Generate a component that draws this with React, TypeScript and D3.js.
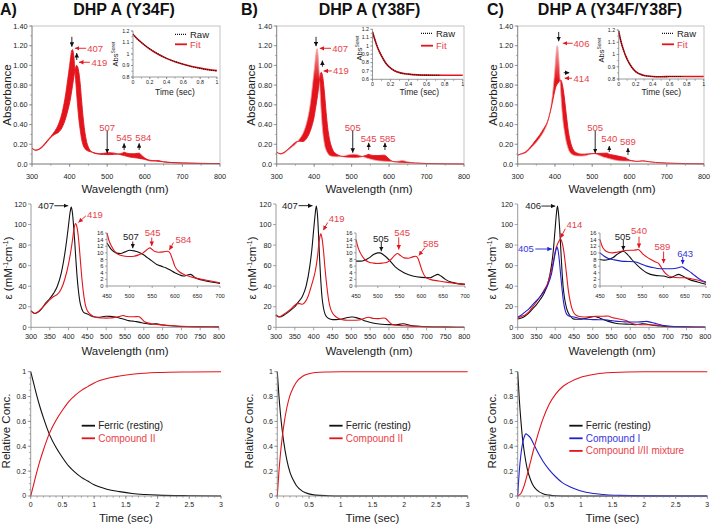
import React from "react";
import * as d3 from "d3";

type Pt = [number, number];
type Arrow = [number, number, number, number, string];
type Label = [string, number, number, string, string];

// ---------------- TOP ROW: stopped-flow spectra (Absorbance) ----------------
const TOP_WL = [300,310,320,330,340,350,360,370,380,390,395,400,403,406,408,410,413,416,419,422,425,428,432,436,440,445,450,460,470,480,490,505,520,530,540,545,550,560,570,580,585,590,595,600,610,620,635,650,670,700,750,800];

const TOP_A_START = [.16,.14,.155,.19,.235,.28,.33,.40,.52,.72,.86,1.0,1.09,1.155,1.16,1.13,1.02,.86,.70,.56,.44,.35,.25,.19,.16,.14,.13,.12,.11,.105,.108,.115,.11,.10,.09,.085,.08,.07,.065,.06,.057,.054,.05,.046,.035,.03,.035,.022,.015,.01,.006,.004];
const TOP_A_END = [.16,.14,.15,.18,.225,.27,.30,.32,.37,.47,.54,.62,.68,.75,.80,.85,.92,.98,1.0,.98,.92,.82,.64,.47,.34,.23,.17,.12,.105,.10,.097,.095,.098,.102,.11,.12,.112,.105,.104,.108,.11,.095,.075,.06,.042,.035,.028,.022,.015,.01,.006,.004];
const TOP_B_START = [.12,.10,.11,.14,.17,.20,.25,.31,.42,.62,.78,.95,1.06,1.15,1.17,1.12,.95,.72,.52,.36,.26,.19,.14,.11,.09,.08,.075,.073,.076,.082,.092,.10,.09,.075,.06,.055,.05,.04,.034,.03,.028,.027,.026,.025,.025,.025,.035,.022,.01,.005,.002,0];
const TOP_B_END = [.12,.105,.12,.15,.185,.22,.232,.228,.26,.34,.40,.48,.55,.62,.67,.72,.82,.90,.93,.90,.82,.70,.52,.37,.27,.19,.14,.10,.082,.074,.07,.069,.071,.078,.09,.098,.092,.086,.085,.088,.09,.085,.07,.05,.026,.02,.017,.014,.01,.005,.002,0];
const TOP_C_START = [.09,.10,.11,.14,.18,.22,.27,.33,.42,.60,.76,.97,1.12,1.20,1.17,1.08,.90,.70,.54,.42,.34,.27,.20,.15,.12,.10,.09,.082,.08,.083,.095,.105,.085,.07,.06,.055,.05,.04,.034,.031,.03,.03,.03,.03,.027,.025,.035,.025,.014,.006,.002,0];
const TOP_C_END = [.09,.105,.12,.155,.20,.25,.30,.36,.43,.57,.66,.75,.79,.81,.82,.83,.845,.85,.82,.76,.68,.58,.45,.33,.25,.18,.14,.11,.10,.10,.103,.106,.108,.109,.11,.10,.095,.088,.08,.072,.068,.064,.05,.04,.032,.027,.03,.025,.016,.01,.004,.002];

// Soret kinetic traces (insets)
const INSET_A_RAW: Pt[] = [[0,1.175],[0.05,1.13],[0.1,1.10],[0.15,1.07],[0.2,1.045],[0.3,1.0],[0.4,0.962],[0.5,0.935],[0.6,0.91],[0.7,0.89],[0.8,0.875],[0.9,0.862],[1.0,0.853]];
const INSET_A_FIT: Pt[] = [[0,1.17],[0.1,1.10],[0.2,1.043],[0.3,0.998],[0.4,0.962],[0.5,0.933],[0.6,0.91],[0.7,0.892],[0.8,0.877],[0.9,0.864],[1.0,0.855]];
const INSET_B_RAW: Pt[] = [[0,1.17],[0.025,1.08],[0.05,1.0],[0.075,0.935],[0.1,0.88],[0.15,0.79],[0.2,0.735],[0.25,0.70],[0.3,0.68],[0.4,0.662],[0.5,0.653],[0.6,0.65],[0.75,0.648]];
const INSET_B_FIT: Pt[] = [[0,1.17],[0.025,1.08],[0.05,1.0],[0.075,0.935],[0.1,0.88],[0.15,0.79],[0.2,0.735],[0.25,0.70],[0.3,0.68],[0.4,0.662],[0.5,0.653],[0.6,0.65],[0.8,0.648],[1.0,0.648]];
const INSET_C_RAW: Pt[] = [[0,1.19],[0.025,1.11],[0.05,1.05],[0.1,0.96],[0.15,0.90],[0.2,0.86],[0.25,0.84],[0.3,0.828],[0.4,0.82],[0.5,0.818],[0.6,0.82],[0.75,0.82]];
const INSET_C_FIT: Pt[] = [[0,1.19],[0.025,1.11],[0.05,1.05],[0.1,0.96],[0.15,0.90],[0.2,0.86],[0.25,0.84],[0.3,0.828],[0.4,0.82],[0.5,0.818],[0.6,0.82],[0.8,0.82],[1.0,0.82]];

const TOP_Y_TICKS = [0,0.2,0.4,0.6,0.8,1.0,1.2,1.4];
const TOP_X_TICKS = [300,400,500,600,700,800];
const INSET_X_TICKS = [0,0.2,0.4,0.6,0.8,1];
const INSET_AC_Y_TICKS = [0.8,0.9,1,1.1,1.2];
const INSET_B_Y_TICKS = [0.6,0.7,0.8,0.9,1,1.1,1.2];

// ---------------- MIDDLE ROW: extinction spectra ----------------
const MID_A_FERRIC: Pt[] = [[300,16],[305,14.5],[310,13.5],[320,15],[330,19],[340,24],[350,28],[360,33],[370,40],[380,52],[390,72],[395,85],[400,100],[404,112],[407,117],[410,112],[413,100],[416,85],[419,68],[422,52],[426,36],[430,25],[435,18],[440,14.5],[450,13],[460,11],[470,10],[480,9.8],[490,10.3],[500,10.8],[510,10.6],[520,10.2],[530,9.5],[540,8.5],[550,7.5],[560,6.5],[570,6],[580,5.5],[590,4.8],[600,4],[610,3.4],[620,3],[628,3.3],[635,3.5],[645,2.5],[660,1.8],[680,1.2],[700,0.8],[750,0.4],[800,0.2]];
const MID_A_CPDII: Pt[] = [[300,16],[305,14.5],[310,13.5],[320,15.5],[330,19],[340,23],[350,27],[360,30],[370,32],[380,37],[390,47],[400,62],[405,72],[410,84],[414,95],[417,100],[419,101],[422,98],[425,91],[428,80],[432,62],[436,45],[440,32],[445,21],[450,16],[455,13.5],[460,12],[470,10],[480,9.3],[490,9],[500,8.9],[510,9],[520,9.4],[530,10],[537,10.8],[545,11.5],[550,11],[555,10.5],[565,10.2],[575,10.3],[585,10.5],[590,9.8],[595,8],[600,6],[610,4.3],[620,3.5],[630,3],[640,2.6],[660,2],[680,1.5],[700,1],[750,0.6],[800,0.4]];
const MID_B_FERRIC: Pt[] = [[300,12],[305,10.5],[310,10],[320,11.5],[330,14],[340,17],[350,20],[360,25],[370,30],[380,40],[390,60],[395,75],[400,95],[404,110],[407,118],[410,110],[413,90],[416,65],[419,45],[422,30],[426,19],[430,13],[435,10],[440,8.5],[450,7.5],[460,7.5],[470,7.8],[480,8.5],[490,9.5],[500,10],[505,10],[515,9.2],[525,8],[540,5.8],[560,4],[580,3],[600,2.6],[620,2.5],[630,3.1],[637,3.5],[645,3],[655,2],[670,1.1],[700,0.5],[750,0.2],[800,0]];
const MID_B_CPDII: Pt[] = [[300,12],[305,10.8],[310,10.5],[320,12.5],[330,15],[340,18],[350,21.5],[356,23],[363,23],[370,22.5],[378,25],[385,30],[392,38],[400,48],[405,56],[410,68],[414,82],[417,89],[419,91],[422,87],[426,75],[430,58],[435,40],[440,26],[445,18],[450,14],[455,11.5],[460,10],[470,8],[480,7.2],[490,6.9],[500,6.8],[510,6.9],[520,7.1],[530,8],[537,9],[545,9.8],[552,9.2],[560,8.5],[570,8.4],[580,8.8],[587,9],[592,8.4],[597,6.5],[602,4.5],[610,2.6],[620,2],[640,1.5],[660,1.1],[680,0.8],[700,0.5],[750,0.2],[800,0]];
const MID_C_FERRIC: Pt[] = [[300,8],[310,9],[320,11],[330,14],[340,18],[350,22],[360,27],[370,33],[380,42],[390,60],[395,75],[400,97],[403,110],[406,118],[409,110],[412,95],[415,75],[418,55],[421,40],[425,28],[430,19],[435,14],[440,11],[450,8],[460,7.8],[470,8],[480,8.5],[490,9.5],[500,10.3],[505,10.5],[515,9.5],[525,8],[540,6],[560,4],[580,3.2],[600,3],[615,2.5],[628,3.2],[635,3.5],[645,3],[660,2],[680,1.2],[700,0.5],[750,0.2],[800,0]];
const MID_C_CPDI: Pt[] = [[300,10],[310,12],[320,15],[330,18],[340,22],[350,26],[360,30],[370,35],[380,41],[390,52],[396,64],[400,72],[405,78],[408,74],[411,65],[414,53],[418,38],[422,25],[427,16],[432,12],[440,10.5],[450,10],[460,9],[470,8.3],[480,8],[500,7.5],[515,7.4],[530,7.3],[540,7],[550,6.5],[560,6],[570,5.7],[585,5.3],[600,5.2],[620,5.2],[635,5.5],[643,5.8],[650,5.3],[660,4.5],[670,3.5],[680,2.5],[690,1.7],[700,1.2],[750,0.3],[800,0]];
const MID_C_MIX: Pt[] = [[300,9],[310,10.5],[320,12],[330,15],[340,20],[350,25],[360,30],[370,36],[380,43],[390,56],[396,66],[400,74],[405,80],[410,84],[414,86],[418,83],[422,76],[426,65],[430,52],[435,36],[440,25],[445,18],[450,14],[455,12],[460,11],[470,10.2],[480,10],[490,10.2],[500,10.5],[510,10.7],[520,10.8],[530,10.8],[540,11],[545,10.5],[550,9.8],[560,8.8],[570,8],[580,7.3],[589,6.7],[595,5.5],[600,4.5],[610,3.2],[620,2.7],[635,2.5],[650,2.5],[665,2.2],[680,1.8],[700,1],[750,0.5],[800,0.3]];

const MID_Y_TICKS = [0,20,40,60,80,100,120];
const MID_X_TICKS = [300,350,400,450,500,550,600,650,700,750,800];
const MID_IN_Y_TICKS = [0,2,4,6,8,10,12,14,16];
const MID_IN_X_TICKS = [450,500,550,600,650,700];

// ---------------- BOTTOM ROW: concentration profiles ----------------
const BOT_A_FERRIC: Pt[] = [[0,1],[0.05,0.9],[0.1,0.8],[0.15,0.71],[0.2,0.63],[0.3,0.49],[0.4,0.39],[0.5,0.31],[0.6,0.24],[0.7,0.19],[0.8,0.15],[0.9,0.12],[1.0,0.09],[1.2,0.055],[1.4,0.035],[1.6,0.02],[1.8,0.012],[2.0,0.007],[2.5,0.002],[3,0]];
const BOT_A_CPDII: Pt[] = [[0,0],[0.05,0.1],[0.1,0.2],[0.15,0.29],[0.2,0.37],[0.3,0.51],[0.4,0.61],[0.5,0.69],[0.6,0.76],[0.7,0.81],[0.8,0.85],[0.9,0.88],[1.0,0.91],[1.2,0.945],[1.4,0.965],[1.6,0.98],[1.8,0.988],[2.0,0.993],[2.5,0.998],[3,1]];
const BOT_B_FERRIC: Pt[] = [[0,1],[0.025,0.81],[0.05,0.66],[0.075,0.54],[0.1,0.44],[0.15,0.29],[0.2,0.19],[0.25,0.13],[0.3,0.085],[0.4,0.037],[0.5,0.017],[0.6,0.007],[0.8,0.002],[1,0],[3,0]];
const BOT_B_CPDII: Pt[] = [[0,0],[0.025,0.19],[0.05,0.34],[0.075,0.46],[0.1,0.56],[0.15,0.71],[0.2,0.81],[0.25,0.87],[0.3,0.915],[0.4,0.963],[0.5,0.983],[0.6,0.993],[0.8,0.998],[1,1],[3,1]];
const BOT_C_FERRIC: Pt[] = [[0,1],[0.025,0.78],[0.05,0.61],[0.075,0.47],[0.1,0.37],[0.15,0.22],[0.2,0.135],[0.25,0.08],[0.3,0.05],[0.4,0.018],[0.5,0.007],[0.6,0.002],[0.8,0],[3,0]];
const BOT_C_CPDI: Pt[] = [[0,0],[0.025,0.2],[0.05,0.33],[0.075,0.42],[0.1,0.47],[0.13,0.5],[0.16,0.49],[0.2,0.47],[0.25,0.42],[0.3,0.37],[0.4,0.28],[0.5,0.21],[0.6,0.155],[0.7,0.11],[0.8,0.08],[0.9,0.058],[1.0,0.04],[1.2,0.02],[1.4,0.01],[1.6,0.005],[2,0.001],[3,0]];
const BOT_C_MIX: Pt[] = [[0,0],[0.05,0.02],[0.1,0.08],[0.15,0.17],[0.2,0.27],[0.25,0.37],[0.3,0.46],[0.4,0.62],[0.5,0.74],[0.6,0.82],[0.7,0.875],[0.8,0.91],[1.0,0.955],[1.2,0.978],[1.5,0.993],[2,0.999],[3,1]];

const BOT_Y_TICKS = [0,0.2,0.4,0.6,0.8,1];
const BOT_X_TICKS = [0,0.5,1,1.5,2,2.5,3];

// ---------------- annotations (data coordinates) ----------------
const TOP_A_ARROWS: Arrow[] = [[406,1.29,406,1.19,"k"],[444,1.174,414,1.174,"r"],[419,1.055,419,1.125,"k"],[454,1.032,425,1.032,"r"],[500,0.34,500,0.11,"k"],[545,0.142,545,0.21,"k"],[585,0.142,585,0.21,"k"]];
const TOP_A_LABELS: Label[] = [["407",447,1.174,"r","start"],["419",458,1.032,"r","start"],["507",500,0.37,"r","middle"],["545",545,0.27,"r","middle"],["584",596,0.27,"r","middle"]];
const TOP_B_ARROWS: Arrow[] = [[405,1.29,405,1.195,"k"],[445,1.174,415,1.174,"r"],[422,0.987,422,1.05,"k"],[447,0.944,425,0.944,"r"],[503,0.34,503,0.115,"k"],[545.6,0.142,545.6,0.215,"k"],[589,0.142,589,0.215,"k"]];
const TOP_B_LABELS: Label[] = [["407",448,1.174,"r","start"],["419",450,0.944,"r","start"],["505",503,0.37,"r","middle"],["545",545.6,0.26,"r","middle"],["585",596,0.26,"r","middle"]];
const TOP_C_ARROWS: Arrow[] = [[410,1.34,410,1.245,"k"],[447.6,1.225,421,1.225,"r"],[423.5,0.926,438.5,0.926,"k"],[445.7,0.87,426,0.87,"r"],[508,0.34,508,0.11,"k"],[545.8,0.122,545.8,0.183,"k"],[596,0.092,596,0.163,"k"]];
const TOP_C_LABELS: Label[] = [["406",450,1.225,"r","start"],["414",450,0.87,"r","start"],["505",508,0.37,"r","middle"],["540",545.8,0.26,"r","middle"],["589",596,0.227,"r","middle"]];

const MID_A_ARROWS: Arrow[] = [[362,118.3,399,118.3,"k"],[446,108.5,426,102,"r"]];
const MID_A_LABELS: Label[] = [["407",340,118.3,"k","middle"],["419",470,109.5,"r","middle"]];
const MID_A_IN_ARROWS: Arrow[] = [[507,13.4,507,11.4,"k"],[549,14.6,549,12.1,"r"],[597,13.1,588,10.9,"r"]];
const MID_A_IN_LABELS: Label[] = [["507",503,14.9,"k","middle"],["545",551,16.2,"r","middle"],["584",619,14.0,"r","middle"]];
const MID_B_ARROWS: Arrow[] = [[360,118.4,397,118.4,"k"],[437,102,425.6,94.5,"r"]];
const MID_B_LABELS: Label[] = [["407",337,118.4,"k","middle"],["419",461,105.5,"r","middle"]];
const MID_B_IN_ARROWS: Arrow[] = [[508,13.3,508,10.5,"k"],[548,14.7,548,11,"r"],[608,11.6,594,9.2,"r"]];
const MID_B_IN_LABELS: Label[] = [["505",507,14.2,"k","middle"],["545",556,16,"r","middle"],["585",622,12.7,"r","middle"]];
const MID_C_ARROWS: Arrow[] = [[363,118,400,118,"k"],[427,96,414,87,"r"],[347,76.2,391,76.2,"b"]];
const MID_C_LABELS: Label[] = [["406",341,118,"k","middle"],["414",451,99.6,"r","middle"],["405",322,76.2,"b","middle"]];
const MID_C_IN_ARROWS: Arrow[] = [[505,13.9,505,10.8,"k"],[542,14.9,542,11.5,"r"],[600,10.4,600,6.9,"r"],[645,8.8,645,6.6,"b"]];
const MID_C_IN_LABELS: Label[] = [["505",503.5,15.0,"k","middle"],["540",542,16.7,"r","middle"],["589",597,11.9,"r","middle"],["643",651,9.9,"b","middle"]];

// ---------------- styling & layout ----------------
const FONT = "'Liberation Sans', Arial, Helvetica, sans-serif";
const AX = "#808080";
const TXT = "#222";
const RED = "#e3141c";
const LRED = "#e8424a";
const BLUE = "#2020d0";
const BLK = "#111111";
const LINE_COL: Record<string, string> = { k: BLK, r: RED, b: BLUE };
const TXT_COL: Record<string, string> = { k: "#222", r: LRED, b: "#3535e0" };

const COLS = [
  {
    key: "A", letter: "A)", letterX: 0, title: "DHP A (Y34F)", titleX: 124,
    ylab: [7, 8, 6], xlabX: 125,
    top: { x: [32, 220], start: TOP_A_START, end: TOP_A_END, fade: false, arrows: TOP_A_ARROWS, labels: TOP_A_LABELS,
      inset: { x: [133, 217], y: [77, 31], dom: [0.8, 1.2], ticks: INSET_AC_Y_TICKS, raw: INSET_A_RAW, fit: INSET_A_FIT, absX: 115.5, absY: 54, timeX: 175, timeY: 92, legX: 175, legY: [34.3, 44.3] } },
    mid: { x: [31, 219], curves: [[MID_A_FERRIC, "k"], [MID_A_CPDII, "r"]], arrows: MID_A_ARROWS, labels: MID_A_LABELS,
      inset: { x: [107, 220], arrows: MID_A_IN_ARROWS, labels: MID_A_IN_LABELS } },
    bot: { x: [30.7, 221], curves: [[BOT_A_FERRIC, "k"], [BOT_A_CPDII, "r"]], legX: 81.7, legend: [["Ferric (resting)", "k"], ["Compound II", "r"]] },
  },
  {
    key: "B", letter: "B)", letterX: 241, title: "DHP A (Y38F)", titleX: 369.5,
    ylab: [251, 252, 249], xlabX: 369,
    top: { x: [276.7, 464], start: TOP_B_START, end: TOP_B_END, fade: true, arrows: TOP_B_ARROWS, labels: TOP_B_LABELS,
      inset: { x: [372.5, 462.7], y: [79.3, 29.3], dom: [0.6, 1.2], ticks: INSET_B_Y_TICKS, raw: INSET_B_RAW, fit: INSET_B_FIT, absX: 359.5, absY: 48, timeX: 419.3, timeY: 92.5, legX: 421, legY: [33.3, 45.7] } },
    mid: { x: [276, 464.3], curves: [[MID_B_FERRIC, "k"], [MID_B_CPDII, "r"]], arrows: MID_B_ARROWS, labels: MID_B_LABELS,
      inset: { x: [356, 465], arrows: MID_B_IN_ARROWS, labels: MID_B_IN_LABELS } },
    bot: { x: [277.3, 467.7], curves: [[BOT_B_FERRIC, "k"], [BOT_B_CPDII, "r"]], legX: 329.3, legend: [["Ferric (resting)", "k"], ["Compound II", "r"]] },
  },
  {
    key: "C", letter: "C)", letterX: 487, title: "DHP A (Y34F/Y38F)", titleX: 610,
    ylab: [493, 492, 492], xlabX: 612,
    top: { x: [517.7, 704], start: TOP_C_START, end: TOP_C_END, fade: true, arrows: TOP_C_ARROWS, labels: TOP_C_LABELS,
      inset: { x: [618.7, 703.7], y: [79, 30], dom: [0.8, 1.2], ticks: INSET_AC_Y_TICKS, raw: INSET_C_RAW, fit: INSET_C_FIT, absX: 601, absY: 50, timeX: 661.3, timeY: 92, legX: 662, legY: [33.3, 44.3] } },
    mid: { x: [517.7, 705.3], curves: [[MID_C_FERRIC, "k"], [MID_C_MIX, "r"], [MID_C_CPDI, "b"]], arrows: MID_C_ARROWS, labels: MID_C_LABELS,
      inset: { x: [600, 706], arrows: MID_C_IN_ARROWS, labels: MID_C_IN_LABELS } },
    bot: { x: [517.7, 707.3], curves: [[BOT_C_FERRIC, "k"], [BOT_C_CPDI, "b"], [BOT_C_MIX, "r"]], legX: 569.3, legend: [["Ferric (resting)", "k"], ["Compound I", "b"], ["Compound I/II mixture", "r"]] },
  },
];

const fmtNum = (v: number) => String(+v.toFixed(3));

function LeftAxis({ y, x, ticks, minor = [], fmt, fs, tl = 3 }: any) {
  const [a, b] = y.range();
  return (
    <g>
      <line x1={x} x2={x} y1={a} y2={b} stroke={AX} strokeWidth={0.8} />
      {minor.map((t: number, i: number) => (
        <line key={"m" + i} x1={x - 1.8} x2={x} y1={y(t)} y2={y(t)} stroke={AX} strokeWidth={0.6} />
      ))}
      {ticks.map((t: number, i: number) => (
        <g key={i}>
          <line x1={x - tl} x2={x} y1={y(t)} y2={y(t)} stroke={AX} strokeWidth={0.7} />
          <text x={x - tl - 1.5} y={y(t)} dy="0.35em" textAnchor="end" fontSize={fs} fill={TXT}>{fmt(t)}</text>
        </g>
      ))}
    </g>
  );
}

function BottomAxis({ x, y, ticks, minor = [], fmt, fs, tl = 3, ly }: any) {
  const [a, b] = x.range();
  return (
    <g>
      <line x1={a} x2={b} y1={y} y2={y} stroke={AX} strokeWidth={0.8} />
      {minor.map((t: number, i: number) => (
        <line key={"m" + i} x1={x(t)} x2={x(t)} y1={y} y2={y + 1.8} stroke={AX} strokeWidth={0.6} />
      ))}
      {ticks.map((t: number, i: number) => (
        <g key={i}>
          <line x1={x(t)} x2={x(t)} y1={y} y2={y + tl} stroke={AX} strokeWidth={0.7} />
          <text x={x(t)} y={ly} dy="0.35em" textAnchor="middle" fontSize={fs} fill={TXT}>{fmt(t)}</text>
        </g>
      ))}
    </g>
  );
}

function Arrows({ list, x, y }: any) {
  return (
    <g>
      {list.map((a: Arrow, i: number) => (
        <line key={i} x1={x(a[0])} y1={y(a[1])} x2={x(a[2])} y2={y(a[3])} stroke={LINE_COL[a[4]]} strokeWidth={0.9} markerEnd={`url(#ah-${a[4]})`} />
      ))}
    </g>
  );
}

function Labels({ list, x, y, fs }: any) {
  return (
    <g>
      {list.map((l: Label, i: number) => (
        <text key={i} x={x(l[1])} y={y(l[2])} dy="0.35em" textAnchor={l[4]} fontSize={fs} fill={TXT_COL[l[3]]}>{l[0]}</text>
      ))}
    </g>
  );
}

function minorRange(a: number, b: number, step: number) {
  return d3.range(a, b + step / 2, step);
}

function TopPanel({ c }: any) {
  const t = c.top;
  const x = d3.scaleLinear().domain([300, 800]).range(t.x);
  const y = d3.scaleLinear().domain([0, 1.4]).range([164, 26]);
  const idx = TOP_WL.map((_, i) => i);
  const area = d3.area<number>().x((i) => x(TOP_WL[i])).y0((i) => y(t.start[i])).y1((i) => y(t.end[i])).curve(d3.curveMonotoneX);
  const line = (vals: number[]) => d3.line<number>().x((i) => x(TOP_WL[i])).y((i) => y(vals[i])).curve(d3.curveMonotoneX)(idx) || "";
  const gid = "grad" + c.key;
  const ins = t.inset;
  const ix = d3.scaleLinear().domain([0, 1]).range(ins.x);
  const iy = d3.scaleLinear().domain(ins.dom).range(ins.y);
  const il = d3.line<Pt>().x((d) => ix(d[0])).y((d) => iy(d[1])).curve(d3.curveMonotoneX);
  return (
    <g>
      <defs>
        <linearGradient id={gid} gradientUnits="userSpaceOnUse" x1={0} x2={0} y1={y(1.2)} y2={y(0.85)}>
          <stop offset="0" stopColor={t.fade ? "#f7a8a8" : RED} />
          <stop offset="1" stopColor={RED} />
        </linearGradient>
      </defs>
      <rect x={t.x[0]} y={26} width={t.x[1] - t.x[0]} height={164 - 26} fill="none" stroke="#b5b5b5" strokeWidth={0.8} />
      <path d={area(idx) || ""} fill={`url(#${gid})`} stroke="none" />
      <path d={line(t.start)} fill="none" stroke={t.fade ? "#f59a9a" : RED} strokeWidth={0.8} />
      <path d={line(t.end)} fill="none" stroke={RED} strokeWidth={0.9} />
      <LeftAxis y={y} x={t.x[0]} ticks={TOP_Y_TICKS} minor={minorRange(0, 1.4, 0.1)} fmt={(v: number) => (v === 0 ? "0.0" : v.toFixed(2))} fs={7.3} />
      <BottomAxis x={x} y={164} ticks={TOP_X_TICKS} minor={minorRange(300, 800, 50)} fmt={fmtNum} fs={7.3} ly={176} />
      <Arrows list={t.arrows} x={x} y={y} />
      <Labels list={t.labels} x={x} y={y} fs={9.5} />
      <text x={c.xlabX} y={188.5} dy="0.35em" textAnchor="middle" fontSize={11.5} fill={TXT}>Wavelength (nm)</text>
      <text transform={`translate(${c.ylab[0]},95) rotate(-90)`} dy="0.35em" textAnchor="middle" fontSize={11.5} fill={TXT}>Absorbance</text>
      {/* inset */}
      <path d={il(ins.fit) || ""} fill="none" stroke={RED} strokeWidth={1.6} />
      <path d={il(ins.raw) || ""} fill="none" stroke={BLK} strokeWidth={1.1} strokeDasharray="1 1" />
      <LeftAxis y={iy} x={ins.x[0]} ticks={ins.ticks} minor={minorRange(ins.dom[0], ins.dom[1], 0.05)} fmt={fmtNum} fs={5.3} tl={2} />
      <BottomAxis x={ix} y={ins.y[0]} ticks={INSET_X_TICKS} minor={minorRange(0, 1, 0.1)} fmt={fmtNum} fs={5.3} tl={2} ly={ins.y[0] + 5.3} />
      <text x={ins.timeX} y={ins.timeY} dy="0.35em" textAnchor="middle" fontSize={8.5} fill={TXT}>Time (sec)</text>
      <text transform={`translate(${ins.absX},${ins.absY}) rotate(-90)`} dy="0.35em" textAnchor="middle" fontSize={7.5} fill={TXT}>
        Abs<tspan fontSize={5} dy={-3}>Soret</tspan>
      </text>
      <line x1={ins.legX} x2={ins.legX + 12} y1={ins.legY[0]} y2={ins.legY[0]} stroke={BLK} strokeWidth={1.3} strokeDasharray="1 1" />
      <text x={ins.legX + 15} y={ins.legY[0]} dy="0.35em" fontSize={9.5} fill={TXT}>Raw</text>
      <line x1={ins.legX} x2={ins.legX + 12} y1={ins.legY[1]} y2={ins.legY[1]} stroke={RED} strokeWidth={1.8} />
      <text x={ins.legX + 15} y={ins.legY[1]} dy="0.35em" fontSize={9.5} fill={LRED}>Fit</text>
    </g>
  );
}

function EpsLabel({ x, y }: any) {
  return (
    <text transform={`translate(${x},${y}) rotate(-90)`} dy="0.35em" textAnchor="middle" fontSize={11.5} fill={TXT}>
      ε (mM<tspan fontSize={7} dy={-4}>-1</tspan><tspan dy={4}>cm</tspan><tspan fontSize={7} dy={-4}>-1</tspan><tspan dy={4}>)</tspan>
    </text>
  );
}

function MidPanel({ c }: any) {
  const m = c.mid;
  const x = d3.scaleLinear().domain([300, 800]).range(m.x);
  const y = d3.scaleLinear().domain([0, 120]).range([327.3, 204]);
  const ln = d3.line<Pt>().x((d) => x(d[0])).y((d) => y(d[1])).curve(d3.curveMonotoneX);
  const ix = d3.scaleLinear().domain([450, 700]).range(m.inset.x);
  const iy = d3.scaleLinear().domain([0, 16]).range([286, 233]);
  const il = d3.line<Pt>().x((d) => ix(d[0])).y((d) => iy(d[1])).curve(d3.curveMonotoneX);
  return (
    <g>
      {m.curves.map(([data, col]: any, i: number) => (
        <path key={i} d={ln(data) || ""} fill="none" stroke={LINE_COL[col]} strokeWidth={1.1} />
      ))}
      <LeftAxis y={y} x={m.x[0]} ticks={MID_Y_TICKS} fmt={fmtNum} fs={7.3} />
      <BottomAxis x={x} y={327.3} ticks={MID_X_TICKS} fmt={fmtNum} fs={7.3} ly={336} />
      <Arrows list={m.arrows} x={x} y={y} />
      <Labels list={m.labels} x={x} y={y} fs={9.5} />
      {/* inset */}
      {m.curves.map(([data, col]: any, i: number) => (
        <path key={"i" + i} d={il(data.filter((d: Pt) => d[0] >= 450 && d[0] <= 700)) || ""} fill="none" stroke={LINE_COL[col]} strokeWidth={1.1} />
      ))}
      <LeftAxis y={iy} x={m.inset.x[0]} ticks={MID_IN_Y_TICKS} fmt={fmtNum} fs={5.8} tl={2} />
      <BottomAxis x={ix} y={286} ticks={MID_IN_X_TICKS} fmt={fmtNum} fs={5.8} tl={2} ly={296} />
      <Arrows list={m.inset.arrows} x={ix} y={iy} />
      <Labels list={m.inset.labels} x={ix} y={iy} fs={9.5} />
      <text x={c.xlabX} y={351} dy="0.35em" textAnchor="middle" fontSize={11.5} fill={TXT}>Wavelength (nm)</text>
      <EpsLabel x={c.ylab[1]} y={268} />
    </g>
  );
}

function BotPanel({ c }: any) {
  const b = c.bot;
  const x = d3.scaleLinear().domain([0, 3]).range(b.x);
  const y = d3.scaleLinear().domain([0, 1]).range([496, 371.7]);
  const ln = d3.line<Pt>().x((d) => x(d[0])).y((d) => y(d[1])).curve(d3.curveMonotoneX);
  return (
    <g>
      {b.curves.map(([data, col]: any, i: number) => (
        <path key={i} d={ln(data) || ""} fill="none" stroke={LINE_COL[col]} strokeWidth={1.1} />
      ))}
      <LeftAxis y={y} x={b.x[0]} ticks={BOT_Y_TICKS} minor={minorRange(0, 1, 0.05)} fmt={fmtNum} fs={7} />
      <BottomAxis x={x} y={496} ticks={BOT_X_TICKS} minor={minorRange(0, 3, 0.1)} fmt={fmtNum} fs={7} ly={505} />
      {b.legend.map(([txt, col]: any, i: number) => (
        <g key={i}>
          <line x1={b.legX} x2={b.legX + 13.3} y1={425.7 + i * 12.6} y2={425.7 + i * 12.6} stroke={LINE_COL[col]} strokeWidth={1.8} />
          <text x={b.legX + 16.5} y={425.7 + i * 12.6} dy="0.35em" fontSize={10} fill={col === "k" ? TXT : TXT_COL[col]}>{txt}</text>
        </g>
      ))}
      <text x={(b.x[0] + b.x[1]) / 2} y={518.3} dy="0.35em" textAnchor="middle" fontSize={11.5} fill={TXT}>Time (sec)</text>
      <text transform={`translate(${c.ylab[2]},431) rotate(-90)`} dy="0.35em" textAnchor="middle" fontSize={11.5} fill={TXT}>Relative Conc.</text>
    </g>
  );
}

export default function App() {
  return (
    <svg width={713} height={525} style={{ position: "absolute", left: 0, top: 0, background: "#fff" }} fontFamily={FONT}>
      <defs>
        {Object.entries(LINE_COL).map(([k, col]) => (
          <marker key={k} id={`ah-${k}`} viewBox="0 0 10 10" refX={10} refY={5} markerWidth={4.5} markerHeight={4.5} markerUnits="userSpaceOnUse" orient="auto">
            <path d="M0,0L10,5L0,10z" fill={col} />
          </marker>
        ))}
      </defs>
      <rect width={713} height={525} fill="#fff" />
      {COLS.map((c) => (
        <g key={c.key}>
          <text x={c.letterX} y={14.5} fontSize={16} fontWeight="bold" fill="#111">{c.letter}</text>
          <text x={c.titleX} y={14.5} fontSize={16} fontWeight="bold" textAnchor="middle" fill="#111">{c.title}</text>
          <TopPanel c={c} />
          <MidPanel c={c} />
          <BotPanel c={c} />
        </g>
      ))}
    </svg>
  );
}
